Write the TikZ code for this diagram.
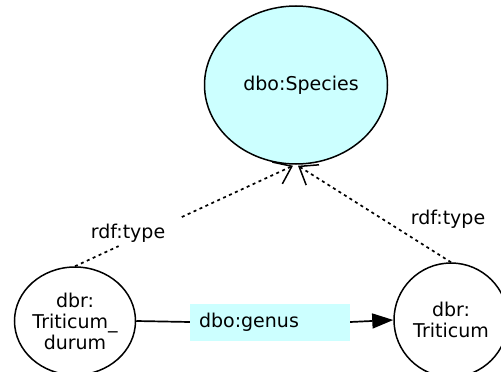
\documentclass[tikz,border=0pt]{standalone}
\usepackage{fontspec}
\setmainfont{DejaVu Sans}
\usetikzlibrary{shapes.geometric,arrows.meta,calc}
\definecolor{lcyan}{RGB}{204,255,255}
\begin{document}
\begin{tikzpicture}[x=1pt,y=-1pt,
  res/.style={draw=black,line width=1.5pt,ellipse,inner sep=0pt,align=center,font=\fontsize{19}{21}\selectfont},
  lbl/.style={font=\fontsize{19}{21}\selectfont,inner sep=0pt},
  typeln/.style={line width=1.7pt,dash pattern=on 3pt off 3.5pt},
  solidln/.style={line width=1.7pt},
  barb/.style={-{Straight Barb[length=16pt,width=24pt,line width=1.5pt]}}]
\useasboundingbox (0,0) rectangle (501,372);
\clip (0,0) rectangle (501,372);
\node[res,fill=lcyan,minimum width=183pt,minimum height=158pt] (species) at (296,85) {\hspace*{10pt}dbo:Species};
\node[res,minimum width=121pt,minimum height=108pt] (durum) at (75,321) {dbr:\\Triticum\_\\durum};
\node[res,minimum width=114pt,minimum height=114pt] (tri) at (451,320) {dbr:\\Triticum};
\node[lbl,fill=lcyan,minimum width=160pt,minimum height=37pt,text width=142pt,align=left] (genus) at (270,322) {dbo:genus};
\draw[solidln] (durum.east) -- (genus.west);
\draw[solidln,-{Triangle[length=21pt,width=15pt]}] (genus.east) -- (tri.west);
\coordinate (sp) at ($(species.south)+(-3,1)$);
\draw[typeln] (durum.north) -- ($(durum.north)!0.2!(sp)$);
\draw[typeln,barb] ($(durum.north)!0.49!(sp)$) -- (sp);
\node[lbl] (l1) at (128,233) {rdf:type};
\draw[typeln,barb] (tri.north) -- ($(species.south)+(2,1)$);
\node[lbl] (l2) at (448,219) {rdf:type};
\end{tikzpicture}
\end{document}
